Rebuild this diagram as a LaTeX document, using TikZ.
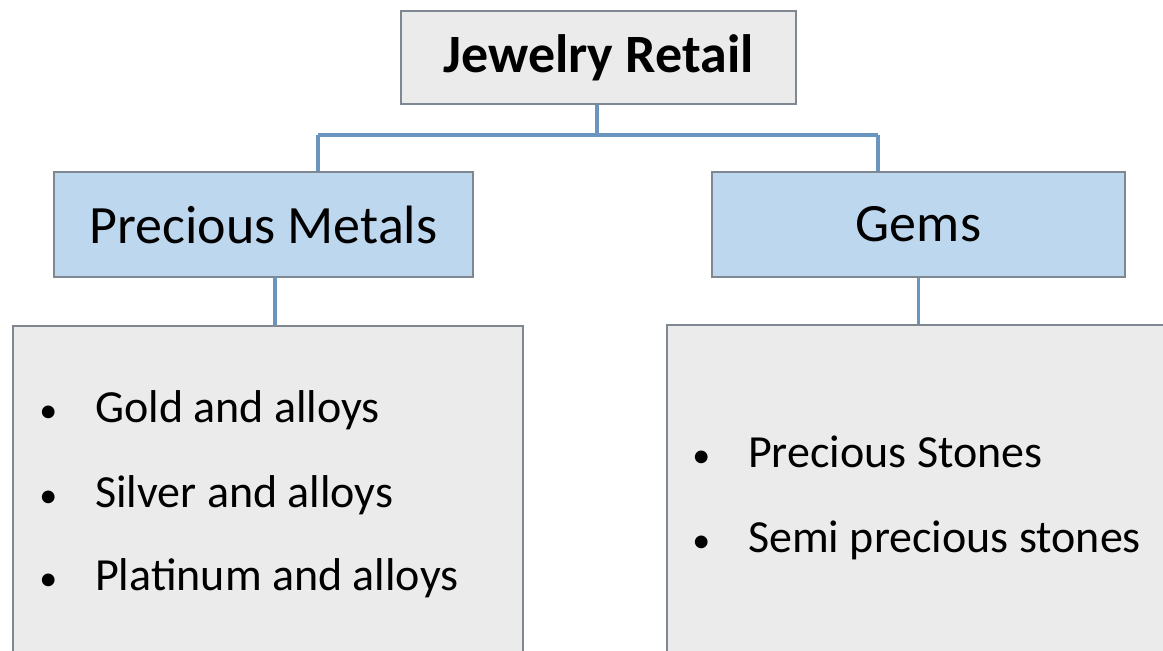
\documentclass[tikz,border=0pt]{standalone}
\usepackage{fontspec}
\setmainfont{Carlito}
\definecolor{boxgray}{HTML}{EBEBEB}
\definecolor{boxblue}{HTML}{BDD7EE}
\definecolor{edgegray}{HTML}{7F8790}
\definecolor{linkblue}{HTML}{6A95C0}
\newcommand{\itembullet}{\llap{{\fontsize{36}{40}\selectfont\textbullet}\hspace{38pt}}}
\begin{document}
\begin{tikzpicture}[x=1pt, y=-1pt]
\clip (0,0) rectangle (1163,651);

\tikzset{every node/.style={draw=edgegray, line width=1.3pt, inner sep=0pt}}
\node[fill=boxgray, minimum width=395pt, minimum height=93pt, font=\fontsize{54}{60}\selectfont\bfseries] (root) at (598.5,57.5) {Jewelry Retail};
\node[fill=boxblue, minimum width=419pt, minimum height=105pt, font=\fontsize{54}{60}\selectfont] (metals) at (263.5,224.5) {Precious Metals};
\node[fill=boxblue, minimum width=413pt, minimum height=105pt, font=\fontsize{54}{60}\selectfont] (gems) at (918.5,224.5) {Gems};
\node[fill=boxgray, minimum width=510pt, minimum height=344pt] (metallist) at (268,498) {};
\node[fill=boxgray, minimum width=520pt, minimum height=346pt] (gemlist) at (927,498) {};

\tikzset{every node/.style={anchor=base west, inner sep=0pt, font=\fontsize{46}{50}\selectfont}}
\node (gold) at (95,422) {\itembullet Gold and alloys};
\node (silver) at (95,507) {\itembullet Silver and alloys};
\node (platinum) at (95,590) {\itembullet Platinum and alloys};
\node (stones) at (748,467) {\itembullet Precious Stones};
\node (semi) at (748,552) {\itembullet Semi precious stones};

\coordinate (mid) at (597,135);
\coordinate (jl) at (318,135);
\coordinate (jr) at (878,135);
\coordinate (ml) at (275,277);

\tikzset{mystyle/.style={draw=linkblue, line width=3.5pt}}
\path (root.south -| mid) edge [mystyle] (mid);
\path (jl) edge [mystyle] (jr);
\path (jl) edge [mystyle] (jl |- metals.north);
\path (jr) edge [mystyle] (jr |- gems.north);
\path (ml) edge [mystyle] (ml |- metallist.north);
\path (gems.south) edge [mystyle] (gemlist.north -| gems.south);
\end{tikzpicture}
\end{document}
